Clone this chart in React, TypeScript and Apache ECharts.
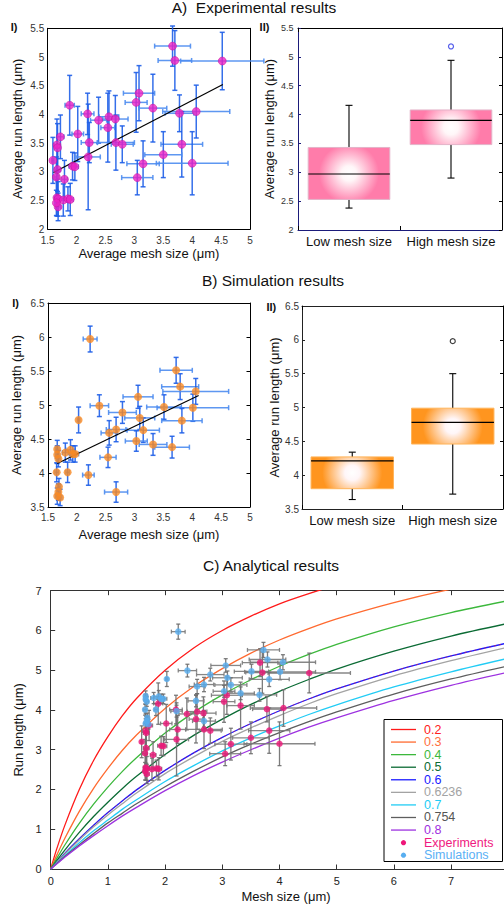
import React, { useEffect, useRef } from "react";
import * as echarts from "echarts";

const FONT = "'Liberation Sans', Arial, Helvetica, sans-serif";

// ---------- Experimental data (panel A-I and C) ----------
const expMesh = [3.66, 3.7, 4.52, 3.08, 3.03, 3.32, 3.78, 4.07, 1.88, 2.19, 2.38, 2.56, 2.67, 2.54, 2.02, 2.22, 2.68, 2.79, 1.72, 1.66, 1.67, 1.59, 1.67, 1.65, 1.79, 1.93, 1.97, 2.2, 3.82, 3.5, 3.15, 4.0, 3.05, 1.66, 1.68, 1.77, 1.85, 1.89, 1.68, 1.65];
const expRun = [5.19, 4.94, 4.93, 4.37, 4.21, 4.11, 4.02, 4.05, 4.16, 4.01, 3.9, 3.96, 3.92, 3.77, 3.66, 3.51, 3.51, 3.48, 3.61, 3.47, 3.42, 3.2, 3.04, 2.91, 2.87, 3.1, 3.09, 3.26, 3.48, 3.3, 3.14, 3.15, 2.9, 2.55, 2.53, 2.51, 2.53, 2.52, 2.39, 2.46];
const expMeshErr = [0.31, 0.29, 0.72, 0.27, 0.19, 0.24, 0.25, 0.58, 0.08, 0.11, 0.14, 0.17, 0.22, 0.12, 0.1, 0.14, 0.32, 0.19, 0.06, 0.05, 0.05, 0.02, 0.05, 0.04, 0.05, 0.06, 0.06, 0.21, 0.36, 0.32, 0.28, 0.62, 0.27, 0.04, 0.05, 0.06, 0.05, 0.05, 0.04, 0.03];
const expRunErr = [0.35, 0.52, 0.5, 0.48, 0.52, 0.59, 0.32, 0.46, 0.52, 0.36, 0.4, 0.45, 0.41, 0.6, 0.48, 0.35, 0.48, 0.32, 0.38, 0.45, 0.42, 0.4, 0.38, 0.35, 0.33, 0.24, 0.24, 0.92, 0.57, 0.4, 0.4, 0.55, 0.3, 0.32, 0.3, 0.28, 0.21, 0.28, 0.24, 0.22];
const expFit = [[1.6, 2.99], [4.53, 4.52]];

// ---------- Simulation data (panel B-I and C) ----------
const simMesh = [2.23, 3.72, 3.79, 4.06, 3.06, 2.39, 3.51, 4.01, 2.03, 2.79, 3.09, 3.82, 2.68, 2.56, 3.15, 3.03, 3.32, 3.65, 2.54, 2.2, 2.68, 1.84, 1.89, 1.93, 1.97, 1.8, 1.66, 1.66, 1.68, 1.65, 1.69, 1.66, 1.71, 1.68];
const simRun = [5.97, 5.51, 5.27, 5.2, 5.12, 4.99, 4.97, 4.96, 4.78, 4.89, 4.81, 4.77, 4.64, 4.59, 4.63, 4.47, 4.42, 4.38, 4.23, 3.97, 3.72, 4.01, 4.34, 4.28, 4.28, 4.3, 4.35, 4.27, 4.21, 4.01, 3.8, 3.66, 3.64, 3.72];
const simMeshErr = [0.12, 0.28, 0.32, 0.57, 0.26, 0.16, 0.3, 0.62, 0.02, 0.24, 0.26, 0.35, 0.17, 0.14, 0.28, 0.19, 0.24, 0.3, 0.14, 0.1, 0.2, 0.03, 0.08, 0.06, 0.06, 0.05, 0.03, 0.03, 0.03, 0.03, 0.03, 0.03, 0.03, 0.03];
const simRunErr = [0.19, 0.19, 0.19, 0.19, 0.17, 0.16, 0.18, 0.2, 0.19, 0.16, 0.17, 0.18, 0.18, 0.18, 0.18, 0.15, 0.16, 0.16, 0.15, 0.15, 0.15, 0.15, 0.15, 0.12, 0.12, 0.14, 0.13, 0.13, 0.12, 0.14, 0.12, 0.12, 0.12, 0.12];
const simFit = [[1.66, 4.14], [4.11, 5.14]];

// ---------- Box plots: [min, Q1, median, Q3, max] ----------
const boxCategories = ["Low mesh size", "High mesh size"];
const expBox = [[2.38, 2.53, 2.97, 3.43, 4.16], [2.9, 3.48, 3.9, 4.08, 4.94]];
const expOutliers = [["High mesh size", 5.18]];
const simBox = [[3.64, 3.8, 4.21, 4.27, 4.34], [3.72, 4.46, 4.78, 4.99, 5.5]];
const simOutliers = [["High mesh size", 5.98]];

// ---------- Analytical curves ----------
const meshGrid = [0, 0.1, 0.25, 0.5, 0.75, 1, 1.25, 1.5, 2, 2.5, 3, 3.5, 4, 4.5, 5, 6, 7, 8];
const curve02 = [0, 0.48, 1.11, 2.0, 2.73, 3.33, 3.85, 4.29, 5.0, 5.56, 6.0, 6.36, 6.67, 6.92, 7.14, 7.5, 7.78, 8.0];
const curve03 = [0, 0.33, 0.78, 1.45, 2.03, 2.53, 2.98, 3.37, 4.04, 4.59, 5.04, 5.43, 5.76, 6.04, 6.29, 6.7, 7.04, 7.31];
const curve04 = [0, 0.25, 0.61, 1.15, 1.63, 2.06, 2.45, 2.8, 3.42, 3.94, 4.38, 4.76, 5.1, 5.39, 5.65, 6.09, 6.45, 6.75];
const curve05 = [0, 0.2, 0.48, 0.92, 1.32, 1.68, 2.02, 2.33, 2.88, 3.36, 3.77, 4.14, 4.47, 4.76, 5.03, 5.48, 5.86, 6.18];
const curve06 = [0, 0.16, 0.4, 0.76, 1.1, 1.42, 1.71, 1.99, 2.48, 2.92, 3.31, 3.66, 3.98, 4.27, 4.53, 4.98, 5.36, 5.69];
const curve06236 = [0, 0.16, 0.38, 0.73, 1.06, 1.36, 1.64, 1.91, 2.4, 2.82, 3.21, 3.55, 3.86, 4.15, 4.41, 4.86, 5.24, 5.58];
const curve07 = [0, 0.14, 0.34, 0.66, 0.96, 1.23, 1.5, 1.74, 2.2, 2.6, 2.97, 3.3, 3.6, 3.88, 4.13, 4.58, 4.96, 5.3];
const curve0754 = [0, 0.13, 0.32, 0.61, 0.89, 1.16, 1.4, 1.64, 2.07, 2.46, 2.82, 3.14, 3.43, 3.7, 3.95, 4.4, 4.78, 5.11];
const curve08 = [0, 0.12, 0.3, 0.58, 0.84, 1.09, 1.33, 1.55, 1.97, 2.35, 2.69, 3.0, 3.29, 3.56, 3.8, 4.24, 4.62, 4.95];
const curveLabels = ["0.2", "0.3", "0.4", "0.5", "0.6", "0.6236", "0.7", "0.754", "0.8"];
const curveValues = [curve02, curve03, curve04, curve05, curve06, curve06236, curve07, curve0754, curve08];
const pointLabels = ["Experiments", "Simulations"];

// ---------- styles ----------
const curveColors = ["#ff1a1a", "#ff6a30", "#3cb83c", "#0b6b34", "#1a1aff", "#a3a3a3", "#22ccf5", "#5e5e5e", "#9d32e0"];
const legendTextColors = ["#ff2020", "#ff7040", "#3cb83c", "#0b6b34", "#1a1aff", "#a3a3a3", "#22ccf5", "#555555", "#a030e0"];
const pointColors = ["#ee1679", "#58aef0"];
const pointTextColors = ["#f01a80", "#5ab0f5"];

function errRenderer(vColor: string, hColor: string, lw: number, cap: number, opacity: number) {
  return (params: any, api: any) => {
    const x = api.value(0), y = api.value(1), xe = api.value(2), ye = api.value(3);
    const l = api.coord([x - xe, y]);
    const r = api.coord([x + xe, y]);
    const t = api.coord([x, y + ye]);
    const b = api.coord([x, y - ye]);
    const hs = { stroke: hColor, lineWidth: lw, opacity };
    const vs = { stroke: vColor, lineWidth: lw, opacity };
    return {
      type: "group",
      children: [
        { type: "line", shape: { x1: l[0], y1: l[1], x2: r[0], y2: r[1] }, style: hs },
        { type: "line", shape: { x1: l[0], y1: l[1] - cap, x2: l[0], y2: l[1] + cap }, style: hs },
        { type: "line", shape: { x1: r[0], y1: r[1] - cap, x2: r[0], y2: r[1] + cap }, style: hs },
        { type: "line", shape: { x1: t[0], y1: t[1], x2: b[0], y2: b[1] }, style: vs },
        { type: "line", shape: { x1: t[0] - cap, y1: t[1], x2: t[0] + cap, y2: t[1] }, style: vs },
        { type: "line", shape: { x1: b[0] - cap, y1: b[1], x2: b[0] + cap, y2: b[1] }, style: vs },
      ],
    };
  };
}

function boxRenderer(boxColor: string, edge: string, widthFrac: number) {
  return (params: any, api: any) => {
    const idx = api.value(0);
    const lo = api.coord([idx, api.value(1)]);
    const q1 = api.coord([idx, api.value(2)]);
    const med = api.coord([idx, api.value(3)]);
    const q3 = api.coord([idx, api.value(4)]);
    const hi = api.coord([idx, api.value(5)]);
    const band = api.size([1, 0])[0];
    const hw = band * widthFrac;
    const cx = lo[0];
    const cap = 3.5;
    const cy = (q1[1] + q3[1]) / 2;
    const ls = { stroke: "#000", lineWidth: 1.1 };
    return {
      type: "group",
      children: [
        { type: "line", shape: { x1: cx, y1: hi[1], x2: cx, y2: q3[1] }, style: ls },
        { type: "line", shape: { x1: cx, y1: q1[1], x2: cx, y2: lo[1] }, style: ls },
        { type: "line", shape: { x1: cx - cap, y1: hi[1], x2: cx + cap, y2: hi[1] }, style: ls },
        { type: "line", shape: { x1: cx - cap, y1: lo[1], x2: cx + cap, y2: lo[1] }, style: ls },
        {
          type: "rect",
          shape: { x: cx - hw, y: q3[1], width: 2 * hw, height: q1[1] - q3[1] },
          style: {
            fill: {
              type: "radial", x: cx, y: cy, r: 30, global: true,
              colorStops: [
                { offset: 0, color: "#ffffff" },
                { offset: 0.25, color: "#fff6f8" },
                { offset: 1, color: boxColor },
              ],
            },
            stroke: edge,
            lineWidth: 1,
          },
        },
        { type: "line", shape: { x1: cx - hw, y1: med[1], x2: cx + hw, y2: med[1] }, style: { stroke: "#000", lineWidth: 1.2 } },
      ],
    };
  };
}

function valueAxis(grid: number, pos: string, min: number, max: number, interval: number, extra: any = {}) {
  return {
    gridIndex: grid, type: "value", position: pos, min, max, interval,
    splitLine: { show: false },
    axisLine: { show: true, onZero: false, lineStyle: { color: "#000", width: 1 } },
    axisTick: { show: false },
    axisLabel: { show: false },
    ...extra,
  };
}

const tickInside = { show: true, inside: true, length: 4, lineStyle: { color: "#000" } };
const nameStyle = { fontSize: 13, color: "#111", fontFamily: FONT };

const xAxes = [
  valueAxis(0, "bottom", 1.5, 5, 0.5, {
    axisLabel: { show: true, fontSize: 10, color: "#333", margin: 6, fontFamily: FONT },
    name: "Average mesh size (μm)", nameLocation: "middle", nameGap: 18, nameTextStyle: nameStyle,
  }),
  valueAxis(0, "top", 1.5, 5, 0.5),
  {
    gridIndex: 1, type: "category", position: "bottom", data: boxCategories, boundaryGap: true,
    axisLine: { show: true, lineStyle: { color: "#1b1b7a" } },
    axisTick: { ...tickInside, alignWithLabel: false },
    axisLabel: { interval: 0, fontSize: 13, color: "#111", margin: 5, fontFamily: FONT },
  },
  {
    gridIndex: 1, type: "category", position: "top", data: boxCategories, boundaryGap: true,
    axisLine: { show: true, lineStyle: { color: "#000" } },
    axisTick: { ...tickInside, alignWithLabel: false },
    axisLabel: { show: false },
  },
  valueAxis(2, "bottom", 1.5, 5, 0.5, {
    axisLabel: { show: true, fontSize: 10, color: "#333", margin: 5, fontFamily: FONT },
    name: "Average mesh size (μm)", nameLocation: "middle", nameGap: 20.5, nameTextStyle: nameStyle,
  }),
  valueAxis(2, "top", 1.5, 5, 0.5),
  {
    gridIndex: 3, type: "category", position: "bottom", data: boxCategories, boundaryGap: true,
    axisLine: { show: true, lineStyle: { color: "#222" } },
    axisTick: { ...tickInside, alignWithLabel: false },
    axisLabel: { interval: 0, fontSize: 13, color: "#111", margin: 4.5, fontFamily: FONT },
  },
  {
    gridIndex: 3, type: "category", position: "top", data: boxCategories, boundaryGap: true,
    axisLine: { show: true, lineStyle: { color: "#222" } },
    axisTick: { ...tickInside, alignWithLabel: false },
    axisLabel: { show: false },
  },
  valueAxis(4, "bottom", 0, 8, 1, {
    axisLine: { show: true, onZero: false, lineStyle: { color: "#333" } },
    axisTick: { ...tickInside, length: 4.5, lineStyle: { color: "#333" } },
    axisLabel: { show: true, showMaxLabel: false, fontSize: 11, color: "#222", margin: 6, fontFamily: FONT },
    name: "Mesh size (μm)", nameLocation: "middle", nameGap: 20.5,
    nameTextStyle: { ...nameStyle, padding: [0, 0, 0, 13] },
  }),
  valueAxis(4, "top", 0, 8, 1, {
    axisLine: { show: true, onZero: false, lineStyle: { color: "#333" } },
    axisTick: { ...tickInside, length: 4.5, lineStyle: { color: "#333" } },
  }),
];

const yAxes = [
  valueAxis(0, "left", 2, 5.5, 0.5, {
    axisLabel: { show: true, fontSize: 10, color: "#333", margin: 3.5, fontFamily: FONT },
    name: "Average run length (μm)", nameLocation: "middle", nameGap: 23.7, nameTextStyle: nameStyle,
  }),
  valueAxis(0, "right", 2, 5.5, 0.5),
  valueAxis(1, "left", 2, 5.5, 0.5, {
    axisLine: { show: true, onZero: false, lineStyle: { color: "#1b1b7a" } },
    axisTick: { ...tickInside, length: 3, lineStyle: { color: "#1b1b7a" } },
    axisLabel: { show: true, fontSize: 9, color: "#333", margin: 4.5, fontFamily: FONT },
    name: "Average run length (μm)", nameLocation: "middle", nameGap: 22.5, nameTextStyle: nameStyle,
  }),
  valueAxis(1, "right", 2, 5.5, 0.5, { axisTick: { ...tickInside, length: 3 } }),
  valueAxis(2, "left", 3.5, 6.5, 0.5, {
    axisTick: { ...tickInside, length: 3.5 },
    axisLabel: { show: true, fontSize: 10, color: "#333", margin: 3.5, fontFamily: FONT },
    name: "Average run length (μm)", nameLocation: "middle", nameGap: 24.8, nameTextStyle: nameStyle,
  }),
  valueAxis(2, "right", 3.5, 6.5, 0.5, { axisTick: { ...tickInside, length: 3.5 } }),
  valueAxis(3, "left", 3.5, 6.5, 0.5, {
    axisLine: { show: true, onZero: false, lineStyle: { color: "#222" } },
    axisTick: { ...tickInside, length: 3, lineStyle: { color: "#222" } },
    axisLabel: { show: true, fontSize: 10, color: "#333", margin: 3, fontFamily: FONT },
    name: "Average run length (μm)", nameLocation: "middle", nameGap: 20.5, nameTextStyle: nameStyle,
  }),
  valueAxis(3, "right", 3.5, 6.5, 0.5, { axisTick: { ...tickInside, length: 3 } }),
  valueAxis(4, "left", 0, 7, 1, {
    axisLine: { show: true, onZero: false, lineStyle: { color: "#333" } },
    axisTick: { ...tickInside, length: 4.5, lineStyle: { color: "#333" } },
    axisLabel: { show: true, fontSize: 11, color: "#222", margin: 9, fontFamily: FONT },
    name: "Run length (μm)", nameLocation: "middle", nameGap: 26.2, nameTextStyle: nameStyle,
  }),
  valueAxis(4, "right", 0, 7, 1),
];

const expErrData = expMesh.map((m, i) => [m, expRun[i], expMeshErr[i], expRunErr[i]]);
const simErrData = simMesh.map((m, i) => [m, simRun[i], simMeshErr[i], simRunErr[i]]);
const expPts = expMesh.map((m, i) => [m, expRun[i]]);
const simPts = simMesh.map((m, i) => [m, simRun[i]]);

function buildLegend() {
  const left = 384, top = 719.5, w = 118.5, h = 142;
  const row0 = 729.5, step = 12.57;
  const children: any[] = [
    { type: "rect", shape: { x: left, y: top, width: w, height: h }, style: { fill: "#fff", stroke: "#000", lineWidth: 1 } },
  ];
  const mkText = (y: number, text: string, color: string) => ({
    type: "text", x: 424, y,
    style: {
      text, fontSize: 12.5, fontFamily: FONT, fill: color,
      align: "left", verticalAlign: "middle", textAlign: "left", textVerticalAlign: "middle",
    },
  });
  curveLabels.forEach((lab, i) => {
    const y = row0 + i * step;
    children.push({ type: "line", shape: { x1: 391, y1: y, x2: 416, y2: y }, style: { stroke: curveColors[i], lineWidth: 1.3 } });
    children.push(mkText(y, lab, legendTextColors[i]));
  });
  pointLabels.forEach((lab, j) => {
    const y = row0 + (curveLabels.length + j) * step;
    children.push({ type: "circle", shape: { cx: 403.5, cy: y, r: 2.6 }, style: { fill: pointColors[j] } });
    children.push(mkText(y, lab, pointTextColors[j]));
  });
  return { type: "group", z: 100, silent: true, children };
}

function buildOption() {
  const series: any[] = [];
  // A-I
  series.push({
    type: "custom", xAxisIndex: 0, yAxisIndex: 0, data: expErrData, encode: { x: 0, y: 1 },
    renderItem: errRenderer("#1f5fe8", "#4d8cf0", 1.5, 2.5, 0.9), z: 2,
  });
  series.push({
    type: "line", xAxisIndex: 0, yAxisIndex: 0, data: expFit, symbol: "none",
    lineStyle: { color: "#000", width: 1.2 }, z: 3,
  });
  series.push({
    type: "scatter", xAxisIndex: 0, yAxisIndex: 0, data: expPts, symbolSize: 8,
    itemStyle: { color: "#ee22c4", borderColor: "#c0109a", borderWidth: 0.6 }, z: 4,
  });
  // A-II
  series.push({
    type: "custom", xAxisIndex: 2, yAxisIndex: 2,
    data: expBox.map((b, i) => [i, ...b]), encode: { x: 0, y: [1, 2, 3, 4, 5] },
    renderItem: boxRenderer("#ff7caa", "#e3b3c8", 0.4),
  });
  series.push({
    type: "scatter", xAxisIndex: 2, yAxisIndex: 2, data: expOutliers, symbolSize: 5,
    itemStyle: { color: "rgba(0,0,0,0)", borderColor: "#2a36e6", borderWidth: 1.2 },
  });
  // B-I
  series.push({
    type: "custom", xAxisIndex: 4, yAxisIndex: 4, data: simErrData, encode: { x: 0, y: 1 },
    renderItem: errRenderer("#1f5fe8", "#4d8cf0", 1.5, 2.5, 0.9), z: 2,
  });
  series.push({
    type: "line", xAxisIndex: 4, yAxisIndex: 4, data: simFit, symbol: "none",
    lineStyle: { color: "#000", width: 1.2 }, z: 3,
  });
  series.push({
    type: "scatter", xAxisIndex: 4, yAxisIndex: 4, data: simPts, symbolSize: 8,
    itemStyle: { color: "#fa8a22" }, z: 4,
  });
  // B-II
  series.push({
    type: "custom", xAxisIndex: 6, yAxisIndex: 6,
    data: simBox.map((b, i) => [i, ...b]), encode: { x: 0, y: [1, 2, 3, 4, 5] },
    renderItem: boxRenderer("#ff951f", "#ffb45a", 0.41),
  });
  series.push({
    type: "scatter", xAxisIndex: 6, yAxisIndex: 6, data: simOutliers, symbolSize: 5,
    itemStyle: { color: "rgba(0,0,0,0)", borderColor: "#111", borderWidth: 1.2 },
  });
  // C curves
  curveLabels.forEach((lab, k) => {
    series.push({
      name: lab, type: "line", xAxisIndex: 8, yAxisIndex: 8,
      data: meshGrid.map((x, i) => [x, curveValues[k][i]]),
      smooth: 0.3, symbol: "none", showSymbol: false, clip: true,
      lineStyle: { color: curveColors[k], width: 1.3 }, itemStyle: { color: curveColors[k] }, z: 2,
    });
    if (lab === "0.6") {
      series.push({
        type: "line", xAxisIndex: 8, yAxisIndex: 8,
        data: meshGrid.map((x, i) => [x, curveValues[k][i]]),
        smooth: 0.3, symbol: "none", clip: true,
        lineStyle: { color: "#ff2020", width: 0.8, type: [2, 3], opacity: 0.7 }, z: 2,
      });
    }
  });
  series.push({
    type: "custom", xAxisIndex: 8, yAxisIndex: 8, data: expErrData, encode: { x: 0, y: 1 },
    renderItem: errRenderer("#6e6e6e", "#7a7a7a", 1.3, 2, 0.9), z: 3,
  });
  series.push({
    type: "custom", xAxisIndex: 8, yAxisIndex: 8, data: simErrData, encode: { x: 0, y: 1 },
    renderItem: errRenderer("#6e6e6e", "#7a7a7a", 1.3, 2, 0.9), z: 3,
  });
  series.push({
    name: pointLabels[0], type: "scatter", xAxisIndex: 8, yAxisIndex: 8, data: expPts, symbolSize: 6.5,
    itemStyle: { color: pointColors[0] }, z: 4,
  });
  series.push({
    name: pointLabels[1], type: "scatter", xAxisIndex: 8, yAxisIndex: 8, data: simPts, symbolSize: 6.5,
    itemStyle: { color: pointColors[1] }, z: 5,
  });

  const txt = (x: number, y: number, text: string, size: number, bold = false) => ({
    type: "text", x, y, silent: true,
    style: {
      text, fontSize: size, fontFamily: FONT, fontWeight: bold ? "bold" : "normal", fill: "#111",
      align: "center", verticalAlign: "middle", textAlign: "center", textVerticalAlign: "middle",
    },
  });

  const g = (left: number, top: number, width: number, height: number) => ({
    left, top, width, height, containLabel: false, outerBoundsMode: "none",
  });

  return {
    animation: false,
    backgroundColor: "#fff",
    grid: [
      g(47.7, 28.3, 202.3, 201),
      g(298, 28, 204, 202),
      g(48, 303, 202, 204),
      g(302, 306, 201, 203),
      g(50.7, 590.7, 457.6, 278.3),
    ],
    xAxis: xAxes,
    yAxis: yAxes,
    graphic: [
      txt(254, 7, "A)  Experimental results", 15.5),
      txt(273, 280, "B) Simulation results", 15.5),
      txt(271, 565, "C) Analytical results", 15.5),
      txt(14, 27, "I)", 11, true),
      txt(264.5, 27, "II)", 11, true),
      txt(15.5, 303, "I)", 11, true),
      txt(271.3, 306.7, "II)", 11, true),
      buildLegend(),
    ],
    series,
  };
}

export default function App() {
  const ref = useRef<HTMLDivElement>(null);
  useEffect(() => {
    if (!ref.current) return;
    const chart = echarts.init(ref.current, null, { renderer: "svg" });
    chart.setOption(buildOption() as any);
    return () => chart.dispose();
  }, []);
  return (
    <div
      ref={ref}
      style={{ position: "absolute", left: 0, top: 0, width: 504, height: 911, overflow: "hidden" }}
    />
  );
}
